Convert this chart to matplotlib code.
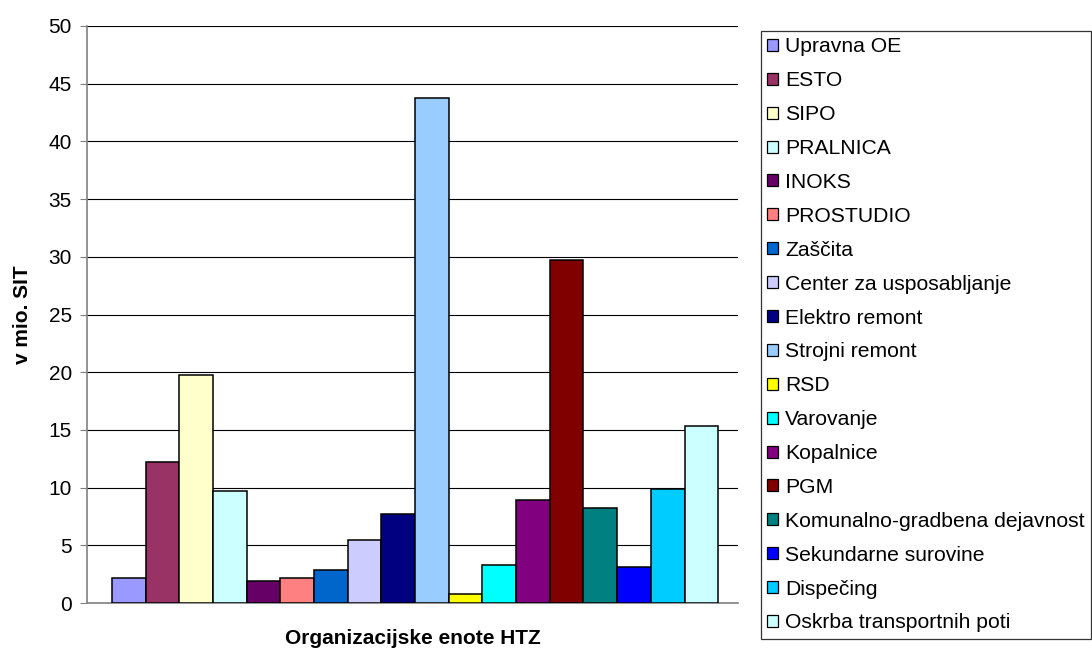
import matplotlib
matplotlib.use("Agg")
import matplotlib.pyplot as plt
from matplotlib.patches import Patch

plt.rcParams['font.family'] = ['Liberation Sans', 'DejaVu Sans']

units = ["Upravna OE", "ESTO", "SIPO", "PRALNICA", "INOKS", "PROSTUDIO",
         "Zaščita", "Center za usposabljanje", "Elektro remont",
         "Strojni remont", "RSD", "Varovanje", "Kopalnice", "PGM",
         "Komunalno-gradbena dejavnost", "Sekundarne surovine",
         "Dispečing", "Oskrba transportnih poti"]
values = [2.2, 12.2, 19.8, 9.7, 1.9, 2.2, 2.9, 5.5, 7.7,
          43.8, 0.8, 3.3, 8.9, 29.7, 8.2, 3.1, 9.9, 15.3]
colors = ["#9999FF", "#993366", "#FFFFCC", "#CCFFFF", "#660066", "#FF8080",
          "#0066CC", "#CCCCFF", "#000080", "#99CCFF", "#FFFF00", "#00FFFF",
          "#800080", "#800000", "#008080", "#0000FF", "#00CCFF", "#CCFFFF"]
yticks = list(range(0, 51, 5))

fig = plt.figure(figsize=(10.92, 6.48), dpi=100)
ax = fig.add_axes([0.0797, 0.0694, 0.5965, 0.8905])

for i, (v, c) in enumerate(zip(values, colors)):
    ax.bar(i, v, width=1.0, color=c, edgecolor="black", linewidth=1.1, zorder=3)

ax.set_xlim(-1.24, 18.1)
ax.set_ylim(0, 50)
ax.set_yticks(yticks)
ax.set_xticks([])
ax.tick_params(axis="y", labelsize=15, length=5, width=0.8, color="#808080", pad=6)
ax.yaxis.grid(True, color="black", linewidth=0.8, zorder=0)
for s in ["top", "right"]:
    ax.spines[s].set_visible(False)
ax.spines["left"].set_color("#808080")
ax.spines["left"].set_linewidth(1.2)
ax.spines["bottom"].set_color("#808080")
ax.spines["bottom"].set_linewidth(1.2)

ax.set_ylabel("v mio. SIT", fontsize=15, fontweight="bold", labelpad=12)
ax.set_xlabel("Organizacijske enote HTZ", fontsize=15, fontweight="bold", labelpad=19)

handles = [Patch(facecolor=c, edgecolor="black", linewidth=0.9) for c in colors]
leg = fig.legend(handles, units, loc="upper left", bbox_to_anchor=(0.697, 0.952),
                 fontsize=15.2, frameon=True, fancybox=False, borderpad=0.3,
                 labelspacing=0.705, handlelength=0.5, handleheight=0.5,
                 handletextpad=0.35, borderaxespad=0)
leg.get_frame().set_edgecolor("black")
leg.get_frame().set_linewidth(0.9)

fig.savefig("out.png", dpi=100)
